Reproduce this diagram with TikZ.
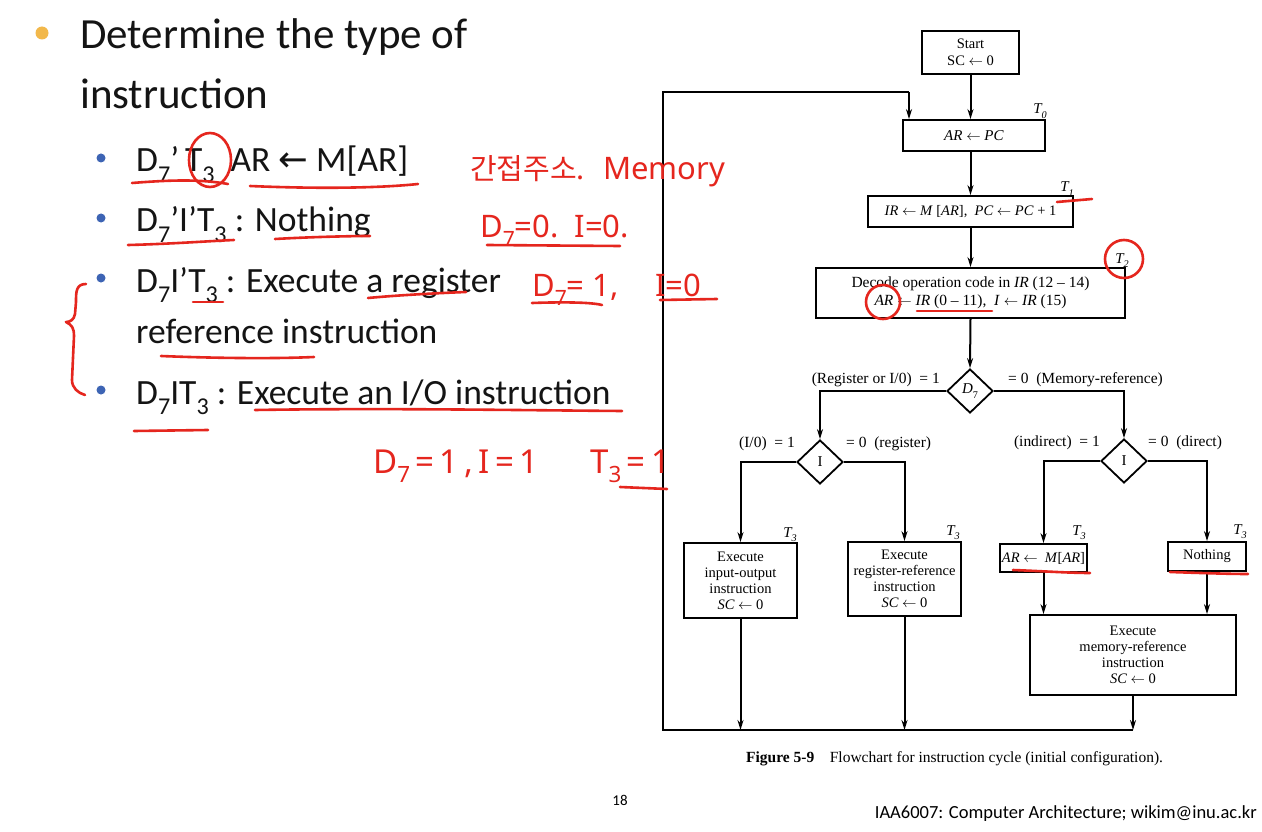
\documentclass[tikz,border=0pt]{standalone}
\usepackage{fontspec}
\usepackage{graphicx}
\setmainfont{Carlito}
\newfontfamily\figfont{Liberation Serif}
\newfontfamily\hwfont{Noto Sans}
\newfontfamily\krfont{Noto Sans CJK KR}
\newfontfamily\symfont{DejaVu Sans}
\usetikzlibrary{shapes.geometric,arrows.meta}
\definecolor{inkred}{HTML}{E5261E}
\definecolor{bulletgold}{HTML}{F2B84B}
\definecolor{bulletblue}{HTML}{3D64B4}
\definecolor{textblack}{HTML}{141414}

% lowered subscript digit, as set on the slide
\newcommand\lowsub[1]{\raisebox{-0.3em}{\scalebox{0.68}{#1}}}
% slide arrow and textbook arrow
\newcommand\larr{{\symfont\char"2190}}
\newcommand\la{\ensuremath{\leftarrow}}

\begin{document}
\begin{tikzpicture}[x=1pt,y=-1pt,
  box/.style={draw, line width=1.8pt, inner sep=2pt, align=center,
    font=\figfont\fontsize{14.5}{16}\selectfont},
  dec/.style={diamond, draw, line width=1.8pt, minimum width=46pt,
    minimum height=44pt, inner sep=0pt, font=\figfont\fontsize{15}{16}\selectfont},
  flow/.style={line width=2pt, -{Stealth[length=10pt,width=6pt]}},
  wire/.style={line width=2pt},
  lab/.style={font=\figfont\fontsize{15.5}{17}\selectfont, inner sep=0pt},
  tlab/.style={font=\figfont\itshape\fontsize{15}{16}\selectfont, inner sep=0pt, anchor=base},
  big/.style={font=\fontsize{43}{48}\selectfont, text=textblack, inner sep=0pt, anchor=base west},
  mid/.style={font=\fontsize{35.5}{40}\selectfont, text=textblack, inner sep=0pt, anchor=base west},
  ink/.style={draw=inkred, line width=2.6pt, line cap=round, line join=round},
  hw/.style={text=inkred, inner sep=0pt, font=\hwfont\fontsize{31}{34}\selectfont, anchor=base west}
]
\useasboundingbox[fill=white] (0,0) rectangle (1262,832);

% ---------- slide text ----------
\fill[bulletgold] (42,33) circle (6.5);
\node[big] (h1) at (80,49) {Determine the type of};
\node[big] (h2) at (80,109) {instruction};

\foreach \yy in {158,218,278,390} \fill[bulletblue] (101,\yy) circle (4.5);
\node[mid] (b1) at (136,172) {D\lowsub{7}'\,T\lowsub{3} \ AR \larr\ M[AR]};
\node[mid] (b2) at (136,232) {D\lowsub{7}'I'T\lowsub{3} : Nothing};
\node[mid] (b3) at (136,292) {D\lowsub{7}I'T\lowsub{3} : Execute a register};
\node[mid] (b3b) at (136,343) {reference instruction};
\node[mid] (b4) at (136,404) {D\lowsub{7}IT\lowsub{3} : Execute an I/O instruction};

% ---------- flowchart ----------
\node[box, minimum width=97pt, minimum height=43pt, font=\figfont\fontsize{14.5}{17}\selectfont] (start) at (970.5,52.5) {Start\\SC \la\ 0};
\node[box, minimum width=142pt, minimum height=31pt, font=\figfont\fontsize{15}{16}\selectfont] (arpc) at (974,135.5) {\textit{AR} \la\ \textit{PC}};
\node[box, minimum width=205pt, minimum height=31pt, font=\figfont\fontsize{14.5}{16}\selectfont] (irm) at (970.5,211.5) {\textit{IR} \la\ \textit{M} [\textit{AR}], \ \textit{PC} \la\ \textit{PC} + 1};
\node[box, minimum width=309pt, minimum height=50pt, font=\figfont\fontsize{15.5}{18}\selectfont] (decode) at (970.5,293)
  {Decode operation code in \textit{IR} (12 – 14)\\\textit{AR} \la\ \textit{IR} (0 – 11), \ \textit{I} \la\ \textit{IR} (15)};
\node[dec] (d7) at (970,391) {\textit{D}\lowsub{7}};
\node[dec] (il) at (820,462) {I};
\node[dec] (ir) at (1124,461) {I};
\node[box, minimum width=113pt, minimum height=75pt] (io) at (740.5,580.5) {Execute\\input-output\\instruction\\\textit{SC} \la\ 0};
\node[box, minimum width=113pt, minimum height=74pt] (reg) at (904.5,579) {Execute\\register-reference\\instruction\\\textit{SC} \la\ 0};
\node[box, minimum width=87pt, minimum height=28pt] (arm) at (1043.5,558) {\textit{AR} \la\ \ \textit{M}[\textit{AR}]};
\node[box, minimum width=78pt, minimum height=29pt] (noth) at (1207,556.5) {Nothing};
\node[box, minimum width=206pt, minimum height=80pt] (mem) at (1133,655) {Execute\\memory-reference\\instruction\\\textit{SC} \la\ 0};

% timing labels
\node[tlab] (t0) at (1040,114) {T\lowsub{0}};
\node[tlab] (t1) at (1067,192) {T\lowsub{1}};
\node[tlab] (t2) at (1122,263) {T\lowsub{2}};
\node[tlab] (t3a) at (790,537) {T\lowsub{3}};
\node[tlab] (t3b) at (953,535) {T\lowsub{3}};
\node[tlab] (t3c) at (1079,535) {T\lowsub{3}};
\node[tlab] (t3d) at (1240,534) {T\lowsub{3}};

% branch labels
\node[lab, anchor=base east] (l1) at (940,383) {(Register or I/0) \ = 1};
\node[lab, anchor=base west] (l2) at (1008,383) {= 0 \ (Memory-reference)};
\node[lab, anchor=base east] (l3) at (795,447) {(I/0) \ = 1};
\node[lab, anchor=base west] (l4) at (846,447) {= 0 \ (register)};
\node[lab, anchor=base east] (l5) at (1100,446) {(indirect) \ = 1};
\node[lab, anchor=base west] (l6) at (1148,446) {= 0 \ (direct)};

% connectors
\coordinate (bl) at (663,730);
\coordinate (tl) at (663,92);
\coordinate (entry) at (909,92);
\draw[flow] (start.south) -- (start.south |- arpc.north);
\draw[flow] (arpc.south -| start.south) -- (start.south |- irm.north);
\draw[flow] (irm.south) -- (decode.north);
\draw[flow] (decode.south) -- (d7.north);
\draw[flow] (d7.west) -| (il.north);
\draw[flow] (d7.east) -| (ir.north);
\draw[flow] (il.west) -| (io.north);
\draw[flow] (il.east) -| (reg.north);
\draw[flow] (ir.west) -| (arm.north);
\draw[flow] (ir.east) -| (noth.north);
\draw[flow] (arm.south) -- (arm.south |- mem.north);
\draw[flow] (noth.south) -- (noth.south |- mem.north);
\draw[flow] (io.south) -- (io.south |- bl);
\draw[flow] (reg.south) -- (reg.south |- bl);
\draw[flow] (mem.south) -- (mem.south |- bl);
\draw[wire, line join=miter] (mem.south |- bl) -- (bl) -- (tl) -- (entry);
\draw[flow] (entry) -- (entry |- arpc.north);

% caption and footer
\node[inner sep=0pt, anchor=base west, font=\figfont\fontsize{15.5}{17}\selectfont] (cap) at (746,762)
  {\textbf{Figure 5-9}\quad Flowchart for instruction cycle (initial configuration).};
\node[inner sep=0pt, anchor=base, font=\fontsize{15}{17}\selectfont] (pg) at (620,805) {18};
\node[inner sep=0pt, anchor=base east, font=\fontsize{18.5}{20}\selectfont] (foot) at (1257,818) {IAA6007: Computer Architecture; wikim@inu.ac.kr};

% ---------- handwritten notes ----------
\draw[ink] (210,160) ellipse (21 and 27);
\draw[ink] (132,183) .. controls (170,180) and (200,179) .. (228,184);
\draw[ink] (250,186) .. controls (320,189) and (380,188) .. (418,184);
\draw[ink] (128,245) .. controls (170,244) and (210,241) .. (234,240);
\draw[ink] (275,239) .. controls (310,237) and (350,236) .. (370,236);
\draw[ink] (193,302) -- (223,302);
\draw[ink] (368,298) .. controls (400,295) and (440,293) .. (466,292);
\draw[ink] (161,356) .. controls (210,358) and (270,359) .. (314,357);
\draw[ink] (255,410) .. controls (380,408) and (500,410) .. (622,411);
\draw[ink] (134,431) -- (208,430);
\draw[ink] (86,284) .. controls (76,284) and (76,292) .. (76,302) -- (75,314)
  .. controls (74,320) and (70,322) .. (66,322) .. controls (72,325) and (74,328) .. (74,336)
  -- (72,380) .. controls (72,388) and (78,393) .. (85,395);
\node[hw, font=\krfont\fontsize{29}{31}\selectfont] (kr) at (470,180) {간접주소.};
\node[hw] (memo) at (603,180) {Memory};
\node[hw] (n1) at (480,237) {D\lowsub{7}=0.\, I=0.};
\draw[ink] (487,245) -- (620,246);
\node[hw] (n2) at (532,296) {D\lowsub{7}= 1,};
\node[hw] (n2b) at (655,296) {I=0};
\draw[ink] (532,303) .. controls (560,302) and (590,302) .. (602,305);
\draw[ink] (660,300) -- (717,299);
\node[hw, font=\hwfont\fontsize{33}{36}\selectfont] (n3) at (373,473) {D\lowsub{7}\,=\,1\,,\,I\,=\,1};
\node[hw, font=\hwfont\fontsize{33}{36}\selectfont] (n3b) at (590,473) {T\lowsub{3}\,=\,1};
\draw[ink] (620,487) -- (667,489);
\draw[ink] (1057,202) -- (1092,199);
\draw[ink] (1124,259) circle (19);
\draw[ink] (883,302) circle (17);
\draw[ink] (917,311) -- (992,311);
\draw[ink] (1013,570) .. controls (1040,571) and (1070,573) .. (1090,573);
\draw[ink] (1170,572) .. controls (1200,573) and (1230,574) .. (1248,574);
\end{tikzpicture}
\end{document}
